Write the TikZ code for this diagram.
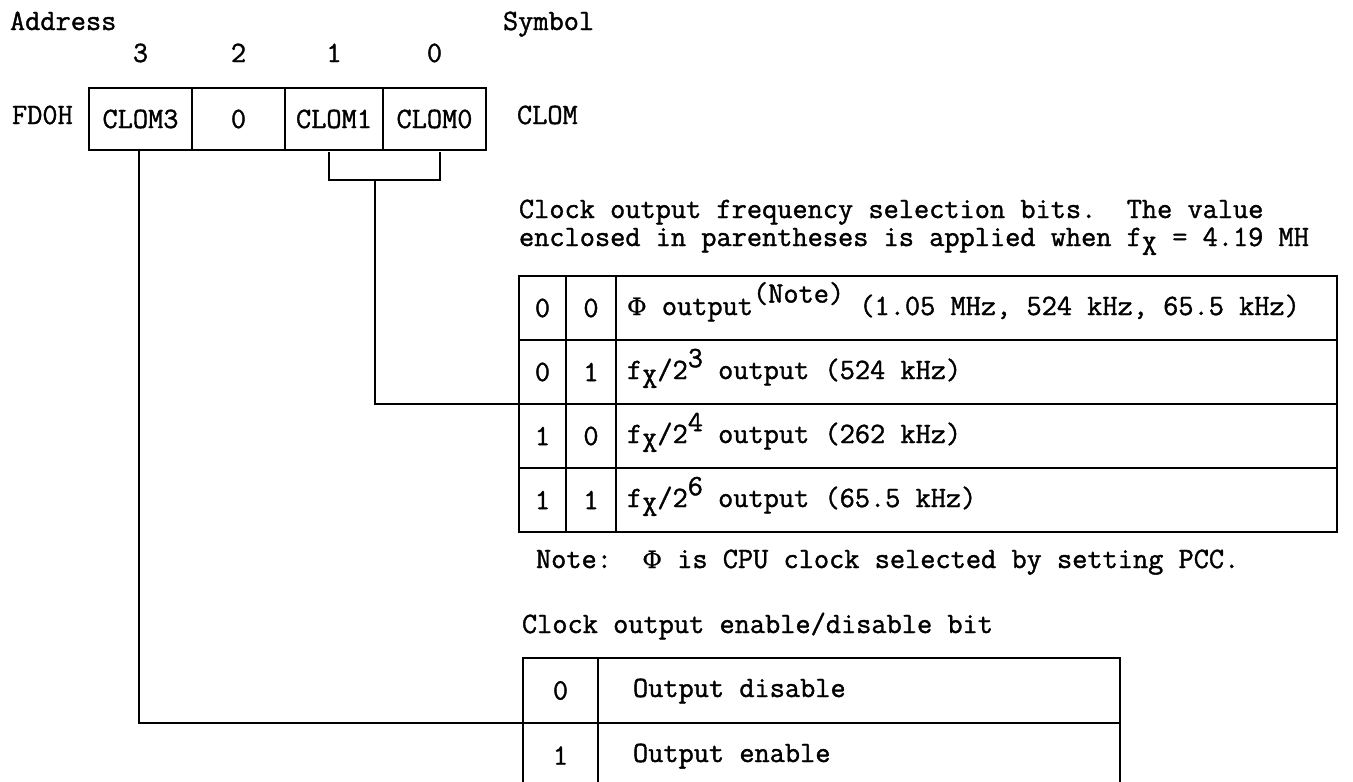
\documentclass[tikz,border=0pt]{standalone}
\usepackage{fontspec}
\newfontfamily\twfont{Latin Modern Mono}[FakeBold=1.3]
\newfontfamily\gkfont{DejaVu Serif}[FakeBold=0.5]
\newcommand{\phisym}{{\gkfont\fontsize{24}{26}\selectfont Φ}}
\begin{document}
\frenchspacing
\begin{tikzpicture}[x=1pt,y=-1pt,
  font=\twfont\fontsize{29.5}{32}\selectfont,
  txt/.style={anchor=base west,inner sep=0pt,outer sep=0pt},
  ctxt/.style={anchor=base,inner sep=0pt,outer sep=0pt},
  cell/.style={draw,line width=2.4pt,inner sep=0pt,outer sep=0pt},
  conn/.style={line width=2pt}]
\useasboundingbox (0,0) rectangle (1353,782);
% header
\node[txt] (addr) at (10,30) {Address};
\node[txt] (sym) at (503,30) {Symbol};
\node[ctxt] (b3) at (140.5,62) {3};
\node[ctxt] (b2) at (238.5,62) {2};
\node[ctxt] (b1) at (334,62) {1};
\node[ctxt] (b0) at (434.5,62) {0};
\node[txt] (fd0h) at (12,124) {FD0H};
\node[txt] (clom) at (517,124) {CLOM};
% register
\node[cell,minimum width=103pt,minimum height=62pt] (c3) at (140.5,119) {CLOM3};
\node[cell,minimum width=93pt,minimum height=62pt] (c2) at (238.5,119) {0};
\node[cell,minimum width=98pt,minimum height=62pt] (c1) at (334,119) {CLOM1};
\node[cell,minimum width=103pt,minimum height=62pt] (c0) at (434.5,119) {CLOM0};
% frequency selection description
\node[txt] (d1) at (519,218) {Clock output frequency selection bits.\ \ The value};
\node[txt] (d2) at (519,246) {enclosed in parentheses is applied when f\raisebox{-.3em}{X} = 4.19 MH};
% table 1
\foreach \r/\a/\b in {1/0/0,2/0/1,3/1/0,4/1/1}{
  \node[cell,minimum width=47pt,minimum height=64pt] (fa\r) at (542.5,244+64*\r) {\a};
  \node[cell,minimum width=50pt,minimum height=64pt] (fb\r) at (591,244+64*\r) {\b};
  \node[cell,minimum width=721pt,minimum height=64pt] (fc\r) at (976.5,244+64*\r) {};
}
\node[txt] (t1) at (627,315) {\phisym\ output\raisebox{.42em}{(Note)} (1.05 MHz, 524 kHz, 65.5 kHz)};
\node[txt] (t2) at (627,379) {f\raisebox{-.3em}{X}/2\raisebox{.4em}{3} output (524 kHz)};
\node[txt] (t3) at (627,443) {f\raisebox{-.3em}{X}/2\raisebox{.4em}{4} output (262 kHz)};
\node[txt] (t4) at (627,507) {f\raisebox{-.3em}{X}/2\raisebox{.4em}{6} output (65.5 kHz)};
\node[txt] (note) at (536,568) {Note:\ \ \phisym\ is CPU clock selected by setting PCC.};
% enable description
\node[txt] (d3) at (522,633) {Clock output enable/disable bit};
% table 2
\node[cell,minimum width=75pt,minimum height=65pt] (ea1) at (560.5,690.5) {0};
\node[cell,minimum width=522pt,minimum height=65pt] (eb1) at (859,690.5) {};
\node[cell,minimum width=75pt,minimum height=65pt] (ea2) at (560.5,755.5) {1};
\node[cell,minimum width=522pt,minimum height=65pt] (eb2) at (859,755.5) {};
\node[txt] (e1) at (633,697) {Output disable};
\node[txt] (e2) at (633,762) {Output enable};
% connectors
\coordinate (bm) at (375,180);
\draw[conn] ([xshift=-5pt,yshift=-2pt]c1.south) |- (bm) -| ([xshift=5pt,yshift=-2pt]c0.south);
\draw[conn] (bm) |- (fa2.south west);
\draw[conn] ([xshift=-1.5pt]c3.south) |- (ea1.south west);
\end{tikzpicture}
\end{document}
